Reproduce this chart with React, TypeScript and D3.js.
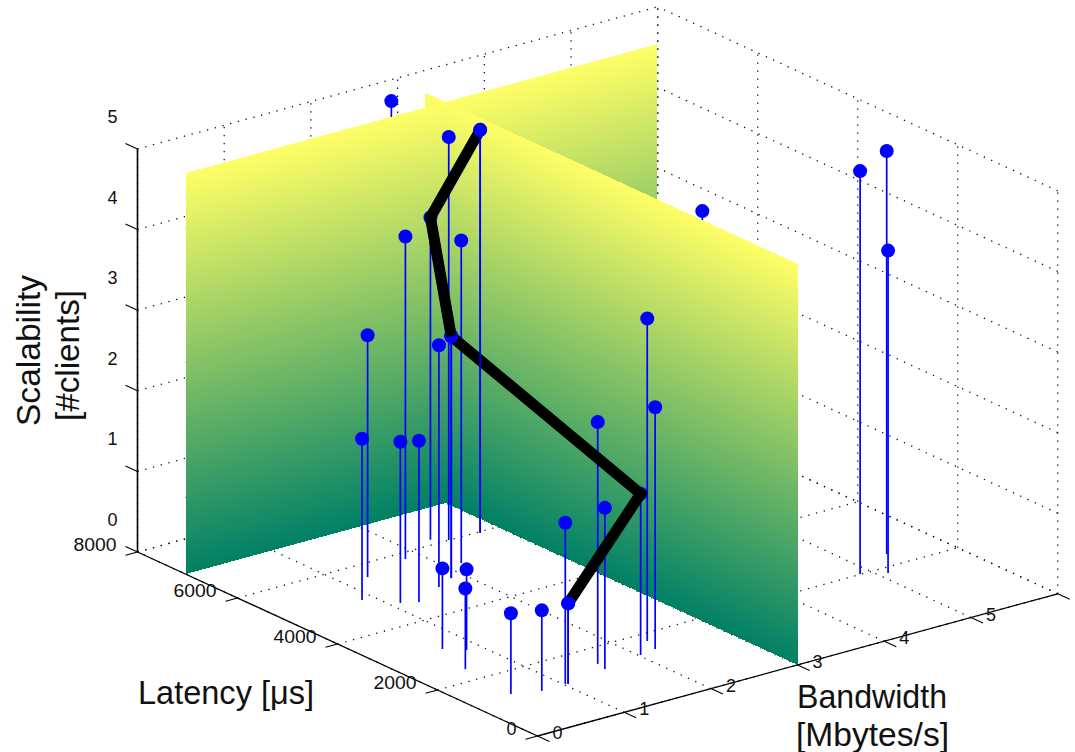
import React from 'react'
import * as d3 from 'd3'

// [latency µs, bandwidth Mbytes/s, scalability clients]
const behindPlanes = [
  [7414, 2.59, 5],
  [2096, 3.11, 5],
]
const frontPoints = [
  [5600, 1.27, 3],
  [5815, 1.83, 4],
  [6147, 2.31, 4],
  [4798, 1.63, 3],
  [6006, 2.44, 5],
  [4950, 1.86, 3],
  [5288, 2.17, 4],
  [5967, 2.78, 5],
  [5018, 0.87, 2],
  [4650, 1.1, 2],
  [4538, 1.25, 2],
  [3081, 0.68, 1],
  [2875, 0.84, 1],
  [2362, 0.53, 1],
  [1347, 0.47, 1],
  [1197, 0.74, 1],
  [1213, 1.02, 2],
  [1190, 1.04, 1],
  [1518, 1.57, 3],
  [1323, 1.54, 2],
  [1440, 2.02, 2],
  [1776, 2.29, 4],
  [1496, 2.22, 3],
  [2010, 4.88, 5],
  [1832, 5.1, 4],
  [2362, 5.39, 5],
]
const bestPath = [
  [5967, 2.78, 5],
  [6147, 2.31, 4],
  [4950, 1.86, 3],
  [1440, 2.02, 2],
  [1190, 1.04, 1],
]

const latencyTicks = [0, 2000, 4000, 6000, 8000]
const bandwidthTicks = [0, 1, 2, 3, 4, 5, 6]
const bandwidthLabels = [0, 1, 2, 3, 4, 5]
const scalabilityTicks = [0, 1, 2, 3, 4, 5]

// the two threshold planes
const latencyPlane = 7040
const latencyPlaneEnd = 5.44
const bandwidthPlane = 3
const bandwidthPlaneEnd = 7450
const planeTop = 4.975
const planeLevels = d3.range(0, planeTop, 0.025)

const width = 1075
const height = 752

// orthographic view: each data axis has its own screen x and y scale
const latX = d3.scaleLinear().domain([0, 8000]).range([0, -400])
const latY = d3.scaleLinear().domain([0, 8000]).range([0, -184])
const bwX = d3.scaleLinear().domain([0, 6]).range([0, 520.2])
const bwY = d3.scaleLinear().domain([0, 6]).range([0, -142.2])
const zY = d3.scaleLinear().domain([0, 5]).range([0, -403])
const color = d3.scaleLinear<string>().domain([0, planeTop]).range(['#008066', '#ffff66'])

const originX = 537.5
const originY = 736

function project(lat: number, bw: number, z: number): [number, number] {
  return [originX + latX(lat) + bwX(bw), originY + latY(lat) + bwY(bw) + zY(z)]
}

const line3d = d3.line<number[]>()
  .x(d => project(d[0], d[1], d[2])[0])
  .y(d => project(d[0], d[1], d[2])[1])

const poly = (pts: number[][]) => line3d(pts) + 'Z'

const sans = '"Liberation Sans", Arial, sans-serif'
const dots = { stroke: '#111', strokeWidth: 1.3, strokeDasharray: '1.3 6.7', fill: 'none' }

function Grid() {
  const lat0 = 0, latMax = 8000, bw0 = 0, bwMax = 6, zMax = 5
  const segs: number[][][] = []
  latencyTicks.forEach(l => {
    segs.push([[l, bw0, 0], [l, bwMax, 0]])
    segs.push([[l, bwMax, 0], [l, bwMax, zMax]])
  })
  bandwidthTicks.forEach(b => {
    segs.push([[lat0, b, 0], [latMax, b, 0]])
    segs.push([[latMax, b, 0], [latMax, b, zMax]])
  })
  scalabilityTicks.forEach(z => {
    segs.push([[latMax, bw0, z], [latMax, bwMax, z]])
    segs.push([[lat0, bwMax, z], [latMax, bwMax, z]])
  })
  return <g>{segs.map((s, i) => <path key={i} d={line3d(s)!} {...dots} />)}</g>
}

function Plane({ corners }: { corners: (z: number) => number[][] }) {
  return (
    <g shapeRendering="crispEdges">
      {planeLevels.map(z => {
        const top = Math.min(z + 0.05, planeTop)
        const [a, b] = corners(z)
        const [c, d] = corners(top)
        return <path key={z} d={poly([a, b, d, c])} fill={color(z + 0.0125)} />
      })}
    </g>
  )
}

function Stems({ points }: { points: number[][] }) {
  return (
    <g>
      {points.map((p, i) => (
        <path key={i} d={line3d([[p[0], p[1], 0], p])!} stroke="#0000ff" strokeWidth={1.7} fill="none" />
      ))}
      {points.map((p, i) => {
        const [cx, cy] = project(p[0], p[1], p[2])
        return <circle key={i} cx={cx} cy={cy} r={7} fill="#0000ff" />
      })}
    </g>
  )
}

function Axes() {
  const tick = (p: [number, number], dx: number, dy: number, key: string) => (
    <line key={key} x1={p[0]} y1={p[1]} x2={p[0] + dx} y2={p[1] + dy} stroke="#000" strokeWidth={1.1} />
  )
  const axisProps = { stroke: '#000', fill: 'none' }
  return (
    <g>
      <path d={line3d([[8000, 0, 0], [8000, 0, 5]])!} {...axisProps} strokeWidth={1.6} />
      <path d={line3d([[8000, 0, 0], [0, 0, 0]])!} {...axisProps} strokeWidth={1.3} />
      <path d={line3d([[0, 0, 0], [0, 6, 0]])!} {...axisProps} strokeWidth={1.3} />
      {scalabilityTicks.map(z => tick(project(8000, 0, z), -12, -5.5, 'z' + z))}
      {latencyTicks.map(l => tick(project(l, 0, 0), -12, 3.3, 'l' + l))}
      {bandwidthTicks.map(b => tick(project(0, b, 0), 12, 5.5, 'b' + b))}
      <g fontFamily={sans} fontSize={18} fill="#111">
        {scalabilityTicks.map(z => {
          const [x, y] = project(8000, 0, z)
          return <text key={z} x={x - 25} y={y - 26} textAnchor="middle">{z}</text>
        })}
        {latencyTicks.map(l => {
          const [x, y] = project(l, 0, 0)
          return <text key={l} x={x - 21} y={y - 1} textAnchor="end" textLength={l ? 43 : undefined} lengthAdjust="spacingAndGlyphs">{l}</text>
        })}
        {bandwidthLabels.map(b => {
          const [x, y] = project(0, b, 0)
          return <text key={b} x={x + 20} y={y + 3} textAnchor="middle">{b}</text>
        })}
      </g>
    </g>
  )
}

export default function App() {
  // z order of the picture: these markers sit on top of the thick line
  const pathTop = [bestPath[0], bestPath[2], bestPath[4]]
  const blackLine = { fill: 'none', stroke: '#000', strokeWidth: 11, strokeLinejoin: 'miter' as const }
  return (
    <svg width={width} height={height} style={{ position: 'absolute', left: 0, top: 0, background: '#fff' }}>
      <Grid />
      <Stems points={[behindPlanes[0]]} />
      <Plane corners={z => [[latencyPlane, bandwidthPlane, z], [latencyPlane, latencyPlaneEnd, z]]} />
      <Stems points={[behindPlanes[1]]} />
      <Plane corners={z => [[bandwidthPlaneEnd, bandwidthPlane, z], [0, bandwidthPlane, z]]} />
      <Plane corners={z => [[latencyPlane, 0, z], [latencyPlane, bandwidthPlane, z]]} />
      <Axes />
      <Stems points={frontPoints} />
      <path d={line3d(bestPath)!} {...blackLine} />
      <Stems points={pathTop} />
      <path d={line3d(bestPath.slice(1, 3))!} {...blackLine} strokeWidth={10} />
      <g fontFamily={sans} fontSize={32.5} fill="#111">
        <text x={138} y={704} textLength={176} lengthAdjust="spacingAndGlyphs">Latency [μs]</text>
        <text x={797} y={708} textLength={150} lengthAdjust="spacingAndGlyphs">Bandwidth</text>
        <text x={796} y={746} textLength={153} lengthAdjust="spacingAndGlyphs">[Mbytes/s]</text>
        <text transform="translate(40,426) rotate(-90)" textLength={151} lengthAdjust="spacingAndGlyphs">Scalability</text>
        <text transform="translate(79,421) rotate(-90)" textLength={131} lengthAdjust="spacingAndGlyphs">[#clients]</text>
      </g>
    </svg>
  )
}
